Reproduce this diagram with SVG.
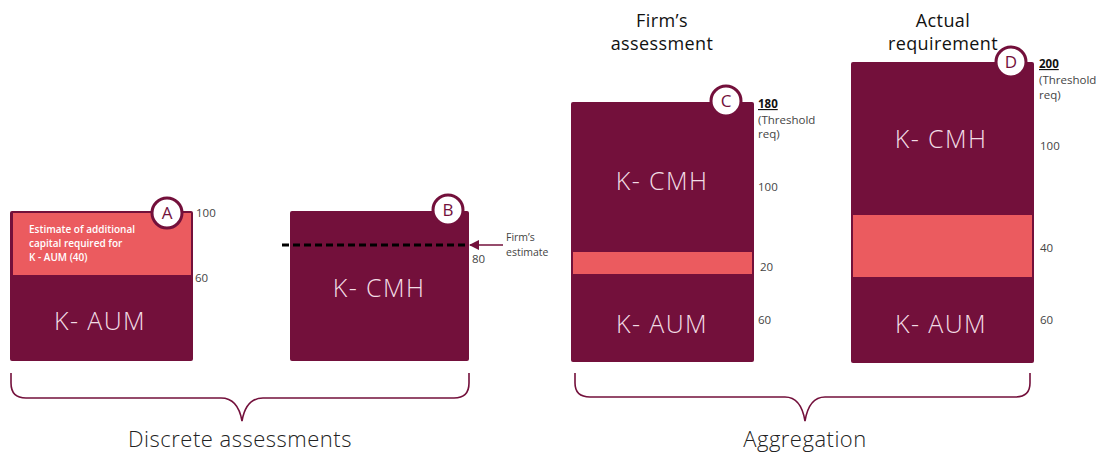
<svg xmlns="http://www.w3.org/2000/svg" width="1099" height="454" viewBox="0 0 1099 454">
<style>
.box{fill:#73103b}
.band{fill:#eb5b5f}
.big{font-family:"Open Sans","Liberation Sans",sans-serif;font-weight:300;font-size:25px;letter-spacing:1.4px;fill:#f2dde5;text-anchor:middle}
.num{font-family:"Open Sans","Liberation Sans",sans-serif;font-size:11.5px;fill:#444}
.numb{font-family:"Open Sans","Liberation Sans",sans-serif;font-size:11.5px;fill:#111;font-weight:bold;text-decoration:underline}
.badge{fill:#fff;stroke:#73103b;stroke-width:3}
.bl{font-family:"Open Sans","Liberation Sans",sans-serif;font-size:17px;fill:#73103b;text-anchor:middle}
.title{font-family:"Open Sans","Liberation Sans",sans-serif;font-size:18px;letter-spacing:0.4px;fill:#111;text-anchor:middle}
.foot{font-family:"Open Sans","Liberation Sans",sans-serif;font-weight:300;font-size:22px;letter-spacing:0.5px;fill:#222;text-anchor:middle}
.brace{fill:none;stroke:#73103b;stroke-width:1.6}
.small{font-family:"Open Sans","Liberation Sans",sans-serif;font-size:10px;fill:#fff;font-weight:600}
</style>
<defs>
<marker id="ah" viewBox="0 0 10 10" refX="9" refY="5" markerWidth="7" markerHeight="7" orient="auto-start-reverse">
<path d="M0,0 L10,5 L0,10 z" fill="#73103b"/>
</marker>
</defs>

<g id="nodeA">
<rect class="box" x="10" y="211" width="183" height="150" rx="2"/>
<rect class="band" x="13" y="213" width="178" height="62"/>
<text class="small" x="29" y="233">Estimate of  additional</text>
<text class="small" x="29" y="247">capital required for</text>
<text class="small" x="29" y="261">K - AUM (40)</text>
<text class="big" x="100" y="330">K- AUM</text>
<circle class="badge" cx="167" cy="213" r="15"/>
<text class="bl" x="167" y="219">A</text>
<text class="num" x="196" y="217">100</text>
<text class="num" x="195" y="282">60</text>
</g>

<g id="nodeB">
<rect class="box" x="290" y="211" width="179" height="150" rx="2"/>
<text class="big" x="379" y="297">K- CMH</text>
<circle class="badge" cx="448" cy="210" r="15"/>
<text class="bl" x="448" y="216">B</text>
<text class="num" x="472" y="263">80</text>
<text class="num" x="506" y="241" style="font-size:10.5px">Firm’s</text>
<text class="num" x="506" y="256" style="font-size:10.5px">estimate</text>
</g>

<g id="nodeC">
<text class="title" x="662" y="27">Firm’s</text>
<text class="title" x="662" y="50">assessment</text>
<rect class="box" x="571" y="102" width="183" height="260" rx="2"/>
<rect class="band" x="573" y="252" width="179" height="22"/>
<text class="big" x="662" y="190">K- CMH</text>
<text class="big" x="662" y="333">K- AUM</text>
<circle class="badge" cx="726" cy="101" r="15"/>
<text class="bl" x="726" y="107">C</text>
<text class="numb" x="758" y="108">180</text>
<text class="num" x="758" y="124">(Threshold</text>
<text class="num" x="758" y="138">req)</text>
<text class="num" x="758" y="191">100</text>
<text class="num" x="760" y="271">20</text>
<text class="num" x="758" y="324">60</text>
</g>

<g id="nodeD">
<text class="title" x="943" y="27">Actual</text>
<text class="title" x="943" y="50">requirement</text>
<rect class="box" x="851" y="62" width="183" height="301" rx="2"/>
<rect class="band" x="853" y="215" width="179" height="62"/>
<text class="big" x="941" y="148">K- CMH</text>
<text class="big" x="941" y="333">K- AUM</text>
<circle class="badge" cx="1011" cy="62" r="15"/>
<text class="bl" x="1011" y="68">D</text>
<text class="numb" x="1039" y="68">200</text>
<text class="num" x="1039" y="84">(Threshold</text>
<text class="num" x="1039" y="99">req)</text>
<text class="num" x="1040" y="150">100</text>
<text class="num" x="1040" y="252">40</text>
<text class="num" x="1040" y="324">60</text>
</g>

<g id="connectors">
<line x1="282" y1="245" x2="468" y2="245" stroke="#000" stroke-width="3" stroke-dasharray="7,4"/>
<line x1="503" y1="245" x2="470" y2="245" stroke="#73103b" stroke-width="1.5" marker-end="url(#ah)"/>
<path class="brace" d="M11,373 V383 Q11,398 26,398 H221 Q238,398 242,421 Q246,398 263,398 H454 Q469,398 469,383 V373"/>
<path class="brace" d="M575,373 V383 Q575,397 590,397 H785 Q801,397 805,421 Q809,397 825,397 H1015 Q1030,397 1030,383 V373"/>
</g>

<g id="labels">
<text class="foot" x="240" y="447">Discrete assessments</text>
<text class="foot" x="805" y="447">Aggregation</text>
</g>
</svg>
